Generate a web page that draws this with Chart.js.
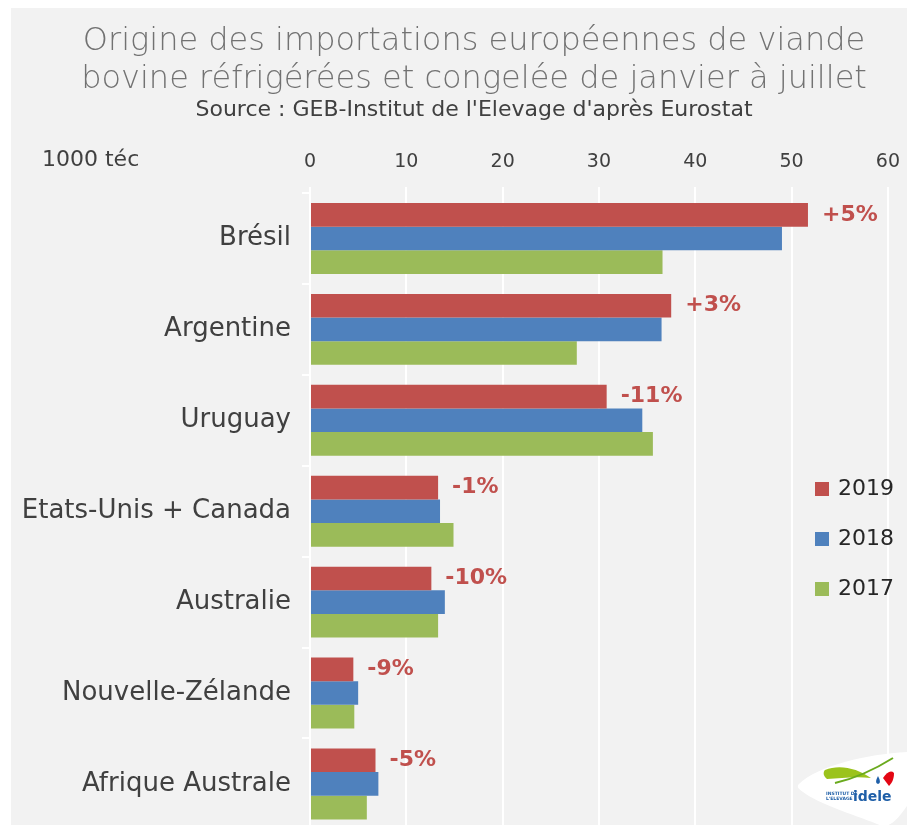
<!DOCTYPE html>
<html lang="fr">
<head>
<meta charset="utf-8">
<title>Importations européennes de viande bovine</title>
<script src="https://cdn.jsdelivr.net/npm/chart.js@4.4.1/dist/chart.umd.min.js"></script>
<style>
  html, body { margin: 0; padding: 0; background: #fff; overflow: hidden; }
  body { width: 907px; height: 826px; position: relative; font-family: 'DejaVu Sans', sans-serif; }
  #panel { position: absolute; left: 11px; top: 8px; width: 896px; height: 817px; background: #f2f2f2; overflow: hidden; }
  #wrap { position: absolute; left: 0; top: 0; width: 903px; height: 848px; }
  .title { position: absolute; left: 0; width: 926px; text-align: center; color: #727272; font-size: 32px; font-weight: 200; line-height: 38px; }
  .source { position: absolute; left: 0; width: 926px; top: 88px; text-align: center; color: #404040; font-size: 22px; }
  .unit { position: absolute; left: 31px; top: 138px; color: #404040; font-size: 22px; }
  .legend { position: absolute; left: 804px; top: 458px; }
  .legend div { height: 50px; line-height: 44px; font-size: 22px; color: #262626; white-space: nowrap; }
  .legend span { display: inline-block; width: 14px; height: 14px; margin-right: 9px; vertical-align: -1px; }
  #logo { position: absolute; left: 786px; top: 740px; }
</style>
</head>
<body>
<div id="panel">
  <div id="wrap"><canvas id="chartImports"></canvas></div>
  <div class="title" style="top:12px">Origine des importations européennes de viande<br>bovine réfrigérées et congelée de janvier à juillet</div>
  <div class="source">Source : GEB-Institut de l'Elevage d'après Eurostat</div>
  <div class="unit">1000 téc</div>
  <div class="legend" id="legend"></div>
  <svg id="logo" width="110" height="80" viewBox="0 0 110 80">
    <path d="M2 36 C 20 18, 70 6, 110 4 L 110 58 C 100 72, 92 82, 80 76 C 55 66, 22 56, 6 44 C 0 40, 0 38, 2 36 Z" fill="#ffffff"/>
    <path d="M28 22 C 42 16, 60 20, 74 30 C 60 28, 44 30, 30 31 C 26 28, 26 24, 28 22 Z" fill="#9bc31c"/>
    <path d="M38 35 C 60 30, 80 20, 96 10" stroke="#6aaa1e" stroke-width="2" fill="none"/>
    <path d="M86 30 C 90 24, 94 22, 97 25 C 97 31, 95 35, 92 38 Z" fill="#e30613"/>
    <path d="M81 28 C 79 32, 78 35, 81 36 C 84 35, 83 32, 81 28 Z" fill="#1f5fa8"/>
    <text x="29" y="47" font-family="DejaVu Sans" font-size="4.5" font-weight="bold" fill="#1f5fa8">INSTITUT DE</text>
    <text x="29" y="52" font-family="DejaVu Sans" font-size="4.5" font-weight="bold" fill="#1f5fa8">L'ELEVAGE</text>
    <text x="56" y="53" font-family="DejaVu Sans" font-size="14" font-weight="bold" fill="#1f5fa8">idele</text>
  </svg>
</div>

<script>
// Pays d'origine (de haut en bas)
const pays = ['Brésil', 'Argentine', 'Uruguay', 'Etats-Unis + Canada', 'Australie', 'Nouvelle-Zélande', 'Afrique Australe'];

// Volumes janvier-juillet, en 1000 téc
const vol2019 = [51.7, 37.5, 30.8, 13.3, 12.6, 4.5, 6.8];
const vol2018 = [49.0, 36.5, 34.5, 13.5, 14.0, 5.0, 7.1];
const vol2017 = [36.6, 27.7, 35.6, 14.9, 13.3, 4.6, 5.9];

// Evolution 2019 / 2018 affichée à droite des barres rouges
const evolution = ['+5%', '+3%', '-11%', '-1%', '-10%', '-9%', '-5%'];

const annees = ['2019', '2018', '2017'];
const COULEURS = { r: '#C0504D', b: '#4F81BD', v: '#9BBB59' };
const FONT = "'DejaVu Sans', sans-serif";

// Legende verticale dans la zone de tracé
const legendEl = document.getElementById('legend');
[COULEURS.r, COULEURS.b, COULEURS.v].forEach((c, i) => {
  const d = document.createElement('div');
  d.innerHTML = '<span style="background:' + c + '"></span>' + annees[i];
  legendEl.appendChild(d);
});

// Etiquettes d'évolution, en gras rouge, après la barre 2019
const evolutionLabels = {
  id: 'evolutionLabels',
  afterDatasetsDraw(chart) {
    const ctx = chart.ctx;
    const meta = chart.getDatasetMeta(0);
    ctx.save();
    ctx.font = 'bold 22px ' + FONT;
    ctx.fillStyle = COULEURS.r;
    ctx.textAlign = 'left';
    ctx.textBaseline = 'middle';
    meta.data.forEach((bar, i) => {
      ctx.fillText(evolution[i], bar.x + 14, bar.y);
    });
    ctx.restore();
  },
};

new Chart(document.getElementById('chartImports'), {
  type: 'bar',
  data: {
    labels: pays,
    datasets: [
      { label: annees[0], data: vol2019, backgroundColor: COULEURS.r },
      { label: annees[1], data: vol2018, backgroundColor: COULEURS.b },
      { label: annees[2], data: vol2017, backgroundColor: COULEURS.v },
    ],
  },
  options: {
    indexAxis: 'y',
    responsive: true,
    maintainAspectRatio: false,
    animation: false,
    layout: { padding: { top: 0, right: 12, bottom: 9, left: 0 } },
    datasets: { bar: { categoryPercentage: 0.78, barPercentage: 1.0 } },
    plugins: {
      legend: { display: false },
      tooltip: { enabled: false },
    },
    scales: {
      x: {
        position: 'top',
        min: 0,
        max: 60,
        afterFit: (scale) => { scale.height = 185; },
        ticks: { stepSize: 10, color: '#404040', font: { family: FONT, size: 19 }, padding: 14 },
        grid: { color: '#ffffff', lineWidth: 2, tickLength: 6 },
        border: { display: false },
      },
      y: {
        afterFit: (scale) => { scale.width = 299; },
        ticks: { color: '#404040', font: { family: FONT, size: 26 }, padding: 11 },
        grid: { drawOnChartArea: false, color: '#ffffff', lineWidth: 2, tickLength: 8 },
        border: { display: true, color: '#ffffff', width: 2 },
      },
    },
  },
  plugins: [evolutionLabels],
});
</script>
</body>
</html>
